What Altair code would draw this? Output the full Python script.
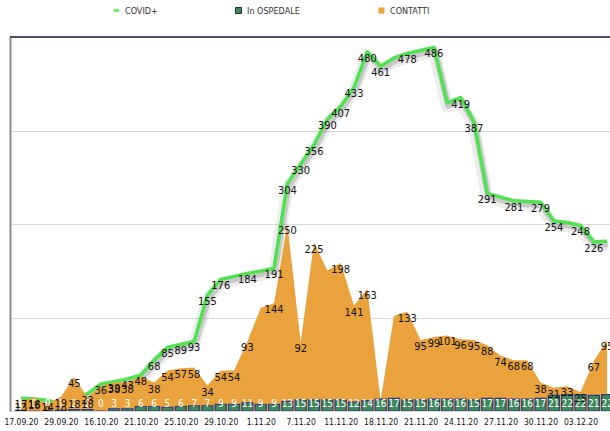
import altair as alt
import pandas as pd

# ---- data ----
tick_labels = ["17.09.20", "29.09.20", "16.10.20", "21.10.20", "25.10.20", "29.10.20",
               "1.11.20", "7.11.20", "11.11.20", "18.11.20", "21.11.20", "24.11.20",
               "27.11.20", "30.11.20", "03.12.20"]

covid = [17, 16, 14, 10, 18, 23, 36, 39, 43, 48, 68, 85, 89, 93, 155, 176, 180, 184, 187,
         191, 304, 330, 356, 390, 407, 433, 480, 461, 472, 478, 482, 486, 412, 419, 387,
         291, 286, 281, 280, 279, 254, 252, 248, 226, 227]

ospedale = [1, 0, 0, 1, 2, 2, 0, 3, 3, 6, 6, 5, 6, 7, 7, 9, 9, 11, 9, 9, 13, 15, 15, 15,
            15, 12, 14, 16, 17, 15, 15, 16, 16, 16, 15, 17, 17, 16, 16, 17, 21, 22, 22,
            21, 22]

contatti = [13, 18, 9, 19, 45, 18, 33, 38, 38, 46, 38, 54, 57, 58, 34, 54, 54, 93, 138,
            144, 250, 92, 225, 188, 198, 141, 163, 14, 127, 133, 95, 99, 101, 96, 95, 88,
            74, 68, 68, 38, 31, 33, 25, 67, 95]

covid_unlabeled = [16, 18, 28, 30, 32, 36, 38, 41, 44]
contatti_unlabeled = [6, 9, 18, 23, 27, 28]

n = len(covid)
df = pd.DataFrame({
    "idx": list(range(n)),
    "covid": covid,
    "ospedale": ospedale,
    "contatti": contatti,
})
df["covid_lbl"] = ["" if i in covid_unlabeled else str(v) for i, v in enumerate(covid)]
df["contatti_lbl"] = ["" if i in contatti_unlabeled else str(v) for i, v in enumerate(contatti)]
df["osp_lbl"] = [str(v) for v in ospedale]

# ---- styles ----
GREEN = "#4fe34f"
ORANGE = "#e9a23c"
BAR_GREEN = "#3d8a58"
NAVY = "#2c3b8a"
FONT = "Liberation Sans Narrow, DejaVu Sans Condensed, Liberation Sans, sans-serif"

x_scale = alt.Scale(domain=[-0.443, 43.84], nice=False, zero=False)
y_scale = alt.Scale(domain=[0, 500], nice=False, zero=True)

label_expr = "[" + ",".join(f"'{t}'" for t in tick_labels) + "][round(datum.value / 3)]"

x_axis = alt.Axis(values=list(range(0, 3 * len(tick_labels), 3)), labelExpr=label_expr,
                  title=None, domain=False, ticks=False, grid=False, labelFont=FONT,
                  labelFontSize=8.5, labelColor="#111", labelPadding=6, labelFlush=False,
                  labelOverlap=False)
y_axis = alt.Axis(values=[125, 250, 375], labels=False, ticks=False, title=None,
                  domain=True, domainColor="#8c8c8c", domainWidth=2, grid=True,
                  gridColor="#dadada", gridWidth=1)

X = alt.X("idx:Q", scale=x_scale, axis=x_axis)

def Y(field):
    return alt.Y(f"{field}:Q", scale=y_scale, axis=y_axis)

base = alt.Chart(df)

top_rule = base.mark_rule(color="#4b5263", strokeWidth=1.5).encode(y=alt.datum(500))

shadow_soft = base.mark_line(color="#000000", opacity=0.07, strokeWidth=12, yOffset=4,
                             clip=True, strokeJoin="round").encode(x=X, y=Y("covid"))
shadow = base.mark_line(color="#777777", opacity=0.3, strokeWidth=6, yOffset=3, xOffset=1,
                        clip=True, strokeJoin="round").encode(x=X, y=Y("covid"))
line = base.transform_calculate(series="'COVID+'").mark_line(
    strokeWidth=3.5, clip=True, strokeJoin="round").encode(
    x=X, y=Y("covid"),
    stroke=alt.Stroke("series:N", scale=alt.Scale(domain=["COVID+"], range=[GREEN]),
                      legend=alt.Legend(title=None, orient="none", legendX=102, legendY=-31,
                                        symbolType="stroke", symbolStrokeWidth=2.5,
                                        symbolSize=30, labelFont=FONT, labelFontSize=9,
                                        labelColor="#333")))

area = base.transform_calculate(series="'CONTATTI'").mark_area(clip=True).encode(
    x=X, y=Y("contatti"),
    fill=alt.Fill("series:N", scale=alt.Scale(domain=["CONTATTI"], range=[ORANGE]),
                  legend=alt.Legend(title=None, orient="none", legendX=367, legendY=-31,
                                    symbolType="square", symbolSize=36,
                                    symbolStrokeWidth=0, labelFont=FONT, labelFontSize=9,
                                    labelColor="#333")))

bars = base.transform_calculate(series="'In OSPEDALE'").mark_bar(
    size=11, stroke=NAVY, strokeWidth=1.2, clip=True).encode(
    x=X, y=Y("ospedale"),
    color=alt.Color("series:N", scale=alt.Scale(domain=["In OSPEDALE"], range=[BAR_GREEN]),
                    legend=alt.Legend(title=None, orient="none", legendX=224, legendY=-31,
                                      symbolType="square", symbolSize=36,
                                      symbolStrokeColor="#1f2a44", symbolStrokeWidth=1,
                                      labelFont=FONT, labelFontSize=9, labelColor="#333")))

osp_text = base.mark_text(font=FONT, fontSize=10, color="white", dy=-7, clip=True).encode(
    x=X, y=alt.datum(0), text="osp_lbl:N")
cont_text = base.mark_text(font=FONT, fontSize=11, color="#111", dy=7, clip=True).encode(
    x=X, y=Y("contatti"), text="contatti_lbl:N")
covid_text = base.mark_text(font=FONT, fontSize=11, color="#111", dy=7, clip=True).encode(
    x=X, y=Y("covid"), text="covid_lbl:N")

chart = alt.layer(top_rule, shadow_soft, shadow, line, area, bars, osp_text, cont_text,
                  covid_text).resolve_scale(
    stroke="independent", fill="independent", color="independent").properties(
    width=600, height=374,
    autosize=alt.AutoSizeParams(type="none"),
    padding={"left": 10, "top": 37, "right": 0, "bottom": 20},
).configure_view(stroke=None).configure(background="white")

chart.save("out.html", embed_options={"renderer": "svg", "actions": False})
